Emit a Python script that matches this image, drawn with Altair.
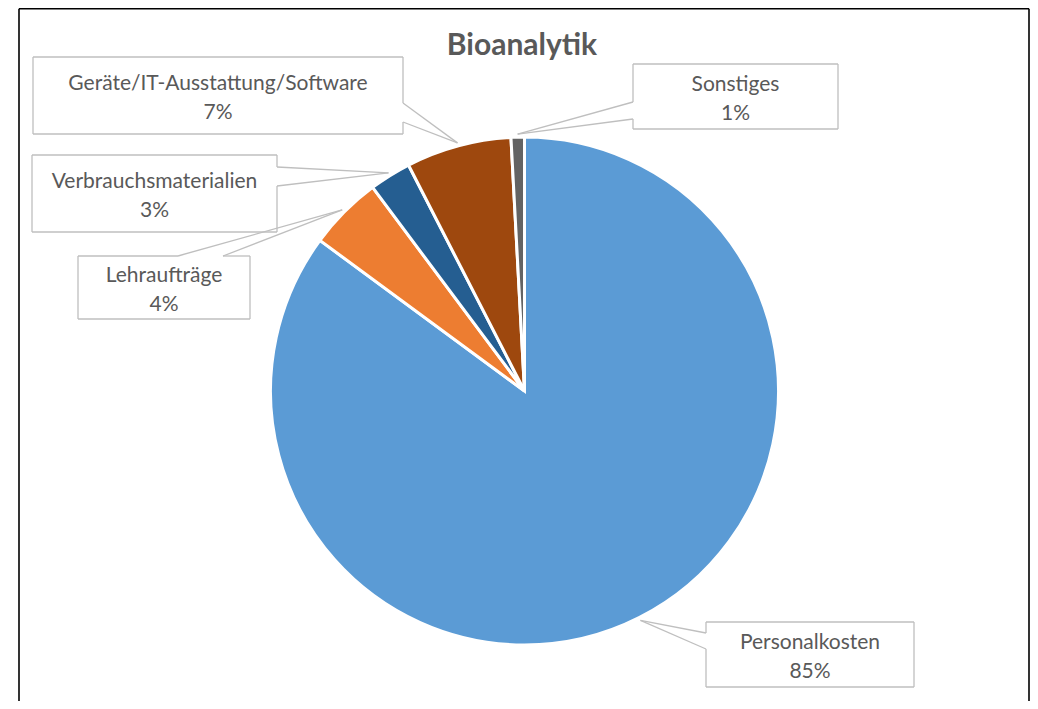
import math
import altair as alt
import pandas as pd

# ---- data ----
categories = ["Personalkosten", "Lehraufträge", "Verbrauchsmaterialien",
              "Geräte/IT-Ausstattung/Software", "Sonstiges"]
values = [85.1, 4.7, 2.65, 6.7, 0.85]
pct_labels = ["85%", "4%", "3%", "7%", "1%"]
colors = ["#5B9BD5", "#ED7D31", "#255E91", "#9E480E", "#636363"]
title_text = "Bioanalytik"

# ---- layout (page pixel coordinates) ----
M = 8
W, H = 1022, 693
CX, CY, R = 524.5 - M, 391 - M, 254
# label boxes: x1, y1, x2, y2, side of callout wedge, base start, base end
boxes = {
    "Personalkosten": (706, 622, 914, 687, "left", 633, 649),
    "Lehraufträge": (78, 256, 250, 319, "top", 178, 223),
    "Verbrauchsmaterialien": (32, 155, 277, 232, "right", 167, 186),
    "Geräte/IT-Ausstattung/Software": (33, 57, 403, 134, "right", 103, 122),
    "Sonstiges": (633, 64, 838, 129, "left", 102, 119),
}

pie_df = pd.DataFrame({"cat": categories, "val": values,
                       "ord": list(range(len(categories)))})

total = sum(values)
segs = []
texts = []
cum = 0.0
for cat, v, pl in zip(categories, values, pct_labels):
    mid = (cum + v / 2) / total * 2 * math.pi
    cum += v
    ax = CX + (R + 3) * math.sin(mid)
    ay = CY - (R + 3) * math.cos(mid)
    x1, y1, x2, y2, side, b1, b2 = boxes[cat]
    x1, y1, x2, y2 = x1 - M, y1 - M, x2 - M, y2 - M
    b1, b2 = b1 - M, b2 - M
    edges = {
        "top": [(x1, y1, x2, y1)],
        "bottom": [(x1, y2, x2, y2)],
        "left": [(x1, y1, x1, y2)],
        "right": [(x2, y1, x2, y2)],
    }
    if side == "top":
        edges["top"] = [(x1, y1, b1, y1), (b2, y1, x2, y1)]
        pts = [(b1, y1), (b2, y1)]
    elif side == "left":
        edges["left"] = [(x1, y1, x1, b1), (x1, b2, x1, y2)]
        pts = [(x1, b1), (x1, b2)]
    else:
        edges["right"] = [(x2, y1, x2, b1), (x2, b2, x2, y2)]
        pts = [(x2, b1), (x2, b2)]
    for lst in edges.values():
        for (a, b, c, d) in lst:
            segs.append({"x": a, "y": b, "x2": c, "y2": d})
    for (px, py) in pts:
        segs.append({"x": px, "y": py, "x2": ax, "y2": ay})
    cx_box = (x1 + x2) / 2
    cy_box = (y1 + y2) / 2
    texts.append({"x": cx_box, "y": cy_box - 6, "t": cat})
    texts.append({"x": cx_box, "y": cy_box + 23, "t": pl})

seg_df = pd.DataFrame(segs)
text_df = pd.DataFrame(texts)
border_df = pd.DataFrame([
    {"x": 11, "y": 0.7, "x2": 1021, "y2": 0.7},
    {"x": 11, "y": 0.7, "x2": 11, "y2": H},
    {"x": 1021, "y": 0.7, "x2": 1021, "y2": H},
])
title_df = pd.DataFrame([{"x": 522 - M, "y": 55 - M, "t": title_text}])

xs = alt.Scale(domain=[0, W], range=[0, W])
ys = alt.Scale(domain=[0, H], range=[0, H])
X = lambda f="x": alt.X(f, type="quantitative", scale=xs, axis=None)
Y = lambda f="y": alt.Y(f, type="quantitative", scale=ys, axis=None)

pie = alt.Chart(pie_df).mark_arc(outerRadius=R, stroke="white", strokeWidth=3).encode(
    theta=alt.Theta("val:Q", stack=True),
    order=alt.Order("ord:Q"),
    color=alt.Color("cat:N", scale=alt.Scale(domain=categories, range=colors), legend=None),
    x=alt.value(CX),
    y=alt.value(CY),
)

lines = alt.Chart(seg_df).mark_rule(color="#BFBFBF", strokeWidth=1.3).encode(
    x=X("x"), y=Y("y"), x2="x2", y2="y2")

border = alt.Chart(border_df).mark_rule(color="#000000", strokeWidth=1.6).encode(
    x=X("x"), y=Y("y"), x2="x2", y2="y2")

labels = alt.Chart(text_df).mark_text(
    font="Lato", fontSize=21, color="#595959", align="center", baseline="alphabetic"
).encode(x=X("x"), y=Y("y"), text="t:N")

title = alt.Chart(title_df).mark_text(
    font="Lato", fontSize=30, fontWeight="bold", color="#595959",
    align="center", baseline="alphabetic"
).encode(x=X("x"), y=Y("y"), text="t:N")

chart = alt.layer(border, lines, pie, labels, title).properties(
    width=W, height=H, padding=0,
    autosize=alt.AutoSizeParams(type="none"),
).configure_view(stroke=None)

chart.save("out.html", embed_options={"renderer": "svg", "actions": False})
